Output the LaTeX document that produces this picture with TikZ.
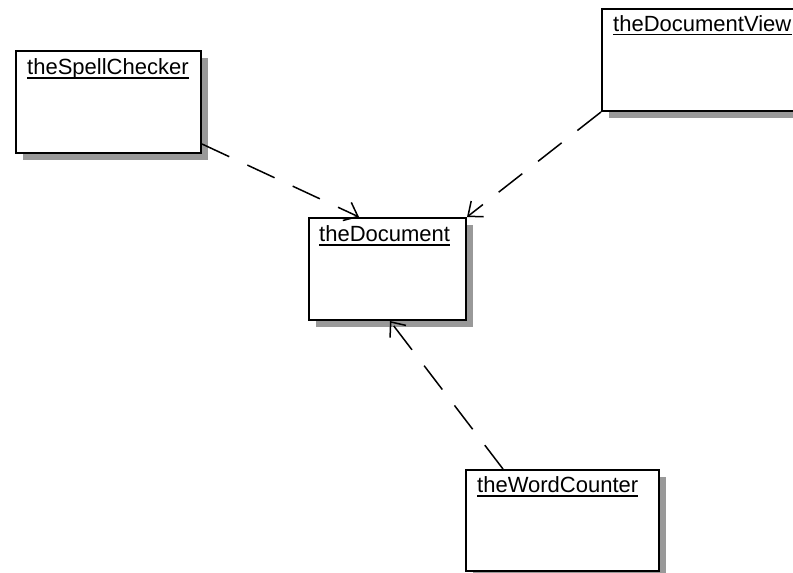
\documentclass[tikz,border=0pt]{standalone}
\usepackage{fontspec}
\setmainfont{Liberation Sans}
\usetikzlibrary{arrows.meta,shadows,calc}

\tikzset{
  classbox/.style={draw=black, line width=2pt, fill=white, anchor=north west,
    inner sep=0pt,
    drop shadow={shadow xshift=7pt, shadow yshift=-7pt, opacity=1, fill=black!40}},
  classname/.style={anchor=base west, inner sep=0pt,
    font=\fontsize{22}{24}\selectfont},
  nameline/.style={line width=1.6pt},
  depends/.style={line width=1.5pt, dash pattern=on 30pt off 20pt,
    -{Straight Barb[length=12pt,width=20pt,line width=1.5pt]}}
}

\begin{document}
\begin{tikzpicture}[x=1pt,y=-1pt]
  \useasboundingbox (0,0) rectangle (793,573);
  \clip (0,0) rectangle (793,573);
  \fill[white] (0,0) rectangle (793,573);

  % class boxes
  \node[classbox, minimum width=185pt, minimum height=102pt] (sc) at (15,50) {};
  \node[classbox, minimum width=220pt, minimum height=102pt] (dv) at (601,8) {};
  \node[classbox, minimum width=157pt, minimum height=102pt] (d)  at (308,217) {};
  \node[classbox, minimum width=193pt, minimum height=101pt] (wc) at (465,469) {};

  % underlined object names
  \node[classname] (sct) at ($(sc.north west)+(12,24.5)$) {theSpellChecker};
  \node[classname] (dvt) at ($(dv.north west)+(12,23)$) {theDocumentView};
  \node[classname] (dt)  at ($(d.north west)+(11,24.5)$)  {theDocument};
  \node[classname] (wct) at ($(wc.north west)+(12,23.5)$) {theWordCounter};
  \foreach \t in {sct,dvt,dt,wct}
    \draw[nameline] ($(\t.base west)+(0,3.5)$) -- ($(\t.base east)+(0,3.5)$);

  % dependencies
  \draw[depends] ($(sc.south east)+(0,-10)$) -- ($(d.north west)+(51,0)$);
  \draw[depends] (dv.south west) -- (d.north east);
  \draw[depends] ($(wc.north west)+(38,0)$) -- ($(d.south west)+(82,0)$);
\end{tikzpicture}
\end{document}
